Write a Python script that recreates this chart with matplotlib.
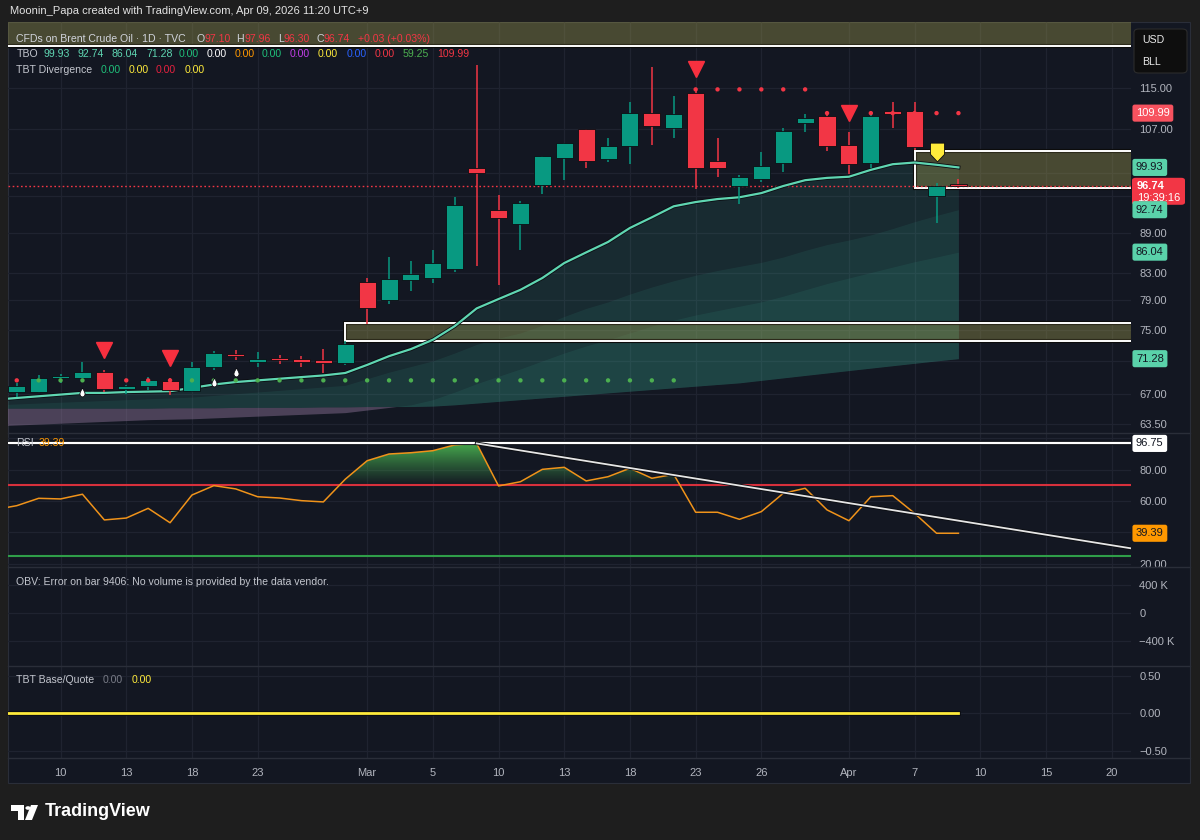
import numpy as np
import matplotlib
matplotlib.use("Agg")
import matplotlib.pyplot as plt
from matplotlib import transforms
from matplotlib.patches import Rectangle, FancyBboxPatch, Polygon, Circle
from matplotlib.path import Path
from matplotlib.colors import LinearSegmentedColormap
from matplotlib.ticker import NullLocator
import matplotlib.patheffects as pe

plt.rcParams['font.family'] = ['Liberation Sans', 'DejaVu Sans']

# ---------------- data ----------------
dates = ['02-05', '02-06', '02-09', '02-10', '02-11', '02-12', '02-13', '02-16', '02-17',
         '02-18', '02-19', '02-20', '02-23', '02-24', '02-25', '02-26', '02-27',
         '03-02', '03-03', '03-04', '03-05', '03-06', '03-09', '03-10', '03-11', '03-12',
         '03-13', '03-16', '03-17', '03-18', '03-19', '03-20', '03-23', '03-24', '03-25',
         '03-26', '03-27', '03-30', '03-31', '04-01', '04-02', '04-06', '04-07', '04-08',
         '04-09']
future_dates = ['04-10', '04-13', '04-14', '04-15', '04-16', '04-17', '04-20', '04-21']

opens = [66.8, 67.2, 67.2, 68.9, 68.9, 69.6, 67.6, 67.9, 68.5, 67.3, 70.2, 71.8, 70.9, 71.3,
         71.0, 71.1, 70.8, 81.6, 79.1, 81.9, 82.2, 83.5, 99.9, 92.7, 90.4, 96.9, 101.6, 106.9,
         101.5, 103.7, 110.1, 107.1, 114.0, 101.0, 96.7, 97.9, 100.8, 108.0, 109.4, 103.9,
         100.8, 110.3, 110.5, 95.0, 97.10]
highs = [67.4, 68.3, 69.3, 69.4, 70.9, 69.9, 68.0, 69.0, 68.9, 70.9, 72.2, 72.4, 72.1, 71.8,
         71.6, 72.5, 73.5, 82.2, 85.3, 84.7, 86.4, 94.9, 119.7, 95.2, 94.1, 101.9, 104.4, 106.9,
         105.3, 112.2, 119.4, 113.4, 114.8, 105.3, 98.6, 102.7, 107.2, 109.9, 110.3, 106.3,
         110.3, 112.2, 112.1, 97.2, 97.96]
lows = [66.3, 66.6, 67.1, 68.3, 68.6, 67.2, 67.0, 67.4, 66.8, 67.2, 69.9, 71.1, 70.2, 70.6,
        70.2, 69.5, 70.5, 75.8, 78.5, 80.3, 81.5, 83.1, 83.9, 81.2, 86.4, 95.4, 97.7, 99.8,
        100.9, 100.5, 103.9, 105.3, 96.2, 98.3, 93.7, 97.4, 99.1, 106.4, 102.8, 98.8, 99.8,
        107.2, 103.0, 90.6, 96.30]
closes = [67.1, 67.9, 68.9, 69.1, 69.6, 67.6, 67.8, 68.6, 67.4, 70.3, 72.0, 71.6, 71.2, 71.1,
          70.9, 70.8, 73.2, 78.0, 82.0, 82.8, 84.4, 93.5, 98.9, 91.4, 93.9, 101.9, 104.3, 101.0,
          103.7, 110.1, 107.5, 109.9, 99.9, 99.9, 98.3, 100.2, 106.6, 109.1, 103.7, 100.5, 109.4,
          109.9, 103.6, 96.71, 96.74]

# TBO lines: fast, medium, medium-slow, slow
tbo_fast = [66.3, 66.5, 66.7, 66.9, 67.1, 67.1, 67.2, 67.25, 67.3, 67.7, 68.1, 68.4, 68.6, 68.8,
            69.0, 69.2, 69.5, 70.5, 71.6, 72.5, 73.7, 75.5, 77.9, 79.2, 80.5, 82.2, 84.4, 86.0,
            87.6, 89.8, 91.5, 93.3, 94.0, 94.5, 94.8, 95.5, 96.7, 97.7, 98.1, 98.3, 99.5, 100.5,
            100.8, 100.4, 99.93]
tbo_mid = [65.7, 65.8, 65.9, 66.0, 66.1, 66.2, 66.3, 66.4, 66.5, 66.6, 66.8, 67.0, 67.2, 67.4,
           67.6, 67.8, 68.0, 68.8, 69.6, 70.3, 71.0, 72.0, 73.1, 73.9, 74.6, 75.6, 76.8, 77.9,
           78.8, 79.9, 80.9, 81.8, 82.6, 83.3, 83.9, 84.5, 85.3, 86.3, 87.2, 87.9, 88.7, 89.7,
           90.8, 91.8, 92.74]
tbo_midslow = [63.3, 63.4, 63.5, 63.6, 63.7, 63.8, 63.9, 64.0, 64.05, 64.1, 64.2, 64.3, 64.4,
               64.5, 64.6, 64.7, 64.8, 65.1, 65.4, 65.7, 66.3, 67.2, 68.2, 69.1, 70.0, 71.0, 72.0,
               72.9, 73.7, 74.6, 75.5, 76.3, 77.0, 77.6, 78.2, 78.8, 79.6, 80.5, 81.4, 82.2, 83.0,
               83.8, 84.6, 85.3, 86.04]
tbo_slow = [65.3, 65.3, 65.3, 65.3, 65.3, 65.3, 65.3, 65.3, 65.35, 65.35, 65.35, 65.4, 65.4,
            65.4, 65.4, 65.45, 65.45, 65.5, 65.5, 65.5, 65.55, 65.7, 65.9, 66.1, 66.3, 66.5,
            66.7, 66.9, 67.1, 67.3, 67.5, 67.7, 67.9, 68.1, 68.3, 68.6, 68.9, 69.2, 69.5, 69.8,
            70.1, 70.4, 70.7, 71.0, 71.28]

# stop dots (level + side)
stop_level = [68.6, 68.6, 68.6, 68.6, 68.6, 68.6, 68.6, 68.6, 68.6, 68.6, 68.6, 68.6, 68.6,
              68.6, 68.6, 68.6, 68.6, 68.6, 68.6, 68.6, 68.6, 68.6, 68.6, 68.6, 68.6, 68.6,
              68.6, 68.6, 68.6, 68.6, 68.6, 68.6, 114.7, 114.7, 114.7, 114.7, 114.7, 114.7,
              109.99, 109.99, 109.99, 109.99, 109.99, 109.99, 109.99]
stop_side = list("rrgggrrrr" "ggggggggggggggggggggggg" "rrrrrrrrrrrrr")

tri_idx = [5, 8, 32, 39]        # red sell triangles
drop_idx = [4, 10, 11]          # white drops under bars
flag_idx = [43]                 # yellow label

# zones: start bar, low, high
zone_start = [-2, 16, 42]
zone_low = [123.9, 73.6, 96.3]
zone_high = [150.0, 75.9, 102.9]

rsi = [54.5, 57.0, 61.7, 61.3, 64.3, 47.9, 49.1, 55.3, 46.1, 63.8, 69.8, 67.7, 62.7, 61.9, 60.2,
       59.4, 73.9, 85.7, 90.0, 90.8, 92.1, 95.8, 96.75, 69.6, 72.3, 80.2, 81.5, 72.8, 75.5, 80.9,
       74.5, 77.0, 52.8, 52.8, 48.3, 53.2, 64.9, 68.1, 54.3, 47.4, 62.7, 63.4, 52.1, 39.4, 39.39]
rsi_hline = 96.75
rsi_trend_x = [22, 52]
rsi_trend_y = [96.75, 29.5]

tbt_base = [0.0, 0.0, 0.0, 0.0, 0.0, 0.0, 0.0, 0.0, 0.0, 0.0, 0.0, 0.0, 0.0, 0.0, 0.0, 0.0,
            0.0, 0.0, 0.0, 0.0, 0.0, 0.0, 0.0, 0.0, 0.0, 0.0, 0.0, 0.0, 0.0, 0.0, 0.0, 0.0,
            0.0, 0.0, 0.0, 0.0, 0.0, 0.0, 0.0, 0.0, 0.0, 0.0, 0.0, 0.0, 0.0]

tick_dates = ['02-10', '02-13', '02-18', '02-23', '03-02', '03-05', '03-10', '03-13', '03-18',
              '03-23', '03-26', '04-01', '04-07', '04-10', '04-15', '04-20']
tick_labels = ['10', '13', '18', '23', 'Mar', '5', '10', '13', '18', '23', '26', 'Apr', '7',
               '10', '15', '20']
# price scale ticks; the ones hidden under value tags get no label
price_ticks = [63.5, 67, 71, 75, 79, 83, 89, 95, 99, 107, 115]
price_tick_labels = ['63.50', '67.00', '', '75.00', '79.00', '83.00', '89.00', '', '', '107.00',
                     '115.00']
rsi_ticks = [20, 40, 60, 80, 100]
rsi_tick_labels = ['20.00', '', '60.00', '80.00', '']

tbo_legend_vals = ['99.93', '92.74', '86.04', '71.28', '0.00', '0.00', '0.00', '0.00', '0.00',
                   '0.00', '0.00', '0.00', '59.25', '109.99']
tbo_legend_cols = ['#5fd6b2', '#5fd6b2', '#5fd6b2', '#5fd6b2', '#1fbf7a', '#ffffff', '#ff9800',
                   '#1fbf7a', '#c23ee8', '#ffeb3b', '#2962ff', '#f23645', '#4caf50', '#f23645']
tbo_legend_x = [43, 78, 112, 146, 179, 207, 235, 262, 290, 318, 347, 375, 403, 437]

# ---------------- styling ----------------
W, H = 1200, 840
BG = '#131722'
OUTER = '#1e1e1e'
GRID = '#1f2330'
AXTXT = '#b2b5be'
UP = '#089981'
DOWN = '#f23645'
TEAL = '#5fd6b2'
EDGE = '#0b0d12'


def box(x0, y0, x1, y1):
    return [x0 / W, 1 - y1 / H, (x1 - x0) / W, (y1 - y0) / H]


def ftext(px, py, s, color, size=7.6, **kw):
    return fig.text(px / W, 1 - py / H, s, color=color, fontsize=size, va='center', ha='left', **kw)


fig = plt.figure(figsize=(12, 8.4), dpi=100, facecolor=OUTER)
fig.patches.append(Rectangle((8 / W, 1 - 783 / H), 1182 / W, 761 / H, transform=fig.transFigure,
                             fc=BG, ec='#2a2e39', lw=0.8, zorder=-10))

ax_p = fig.add_axes(box(8, 22, 1131, 433))
ax_r = fig.add_axes(box(8, 433, 1131, 567), sharex=ax_p)
ax_o = fig.add_axes(box(8, 567, 1131, 666), sharex=ax_p)
ax_t = fig.add_axes(box(8, 666, 1131, 758), sharex=ax_p)

x = np.arange(len(dates))
all_dates = dates + future_dates
tick_pos = [all_dates.index(d) for d in tick_dates]

for ax in (ax_p, ax_r, ax_o, ax_t):
    ax.set_facecolor('none')
    for s in ax.spines.values():
        s.set_visible(False)
    ax.yaxis.tick_right()
    ax.tick_params(axis='y', length=0, colors=AXTXT, labelsize=8, pad=6)
    ax.tick_params(axis='x', length=0, colors=AXTXT, labelsize=8, labelbottom=False)
    ax.grid(True, color=GRID, lw=0.9)
    ax.set_axisbelow(True)

ax_t.set_xticks(tick_pos, labels=tick_labels)
ax_t.tick_params(axis='x', labelbottom=True, pad=7)

# separators between panes
for yy in (433, 567, 666, 758):
    fig.add_artist(plt.Line2D([8 / W, 1190 / W], [1 - yy / H, 1 - yy / H], color='#2a2e39',
                              lw=1.0, transform=fig.transFigure))

# ---------------- price pane ----------------
ax_p.set_yscale('log')
ax_p.set_yticks(price_ticks, labels=price_tick_labels)
ax_p.yaxis.set_minor_locator(NullLocator())
ax_p.set_xlim(0.6, 51.88)
ax_p.set_ylim(62.51, 129.2)

f1 = np.array(tbo_fast)
f2 = np.array(tbo_mid)
f3 = np.array(tbo_midslow)
f4 = np.array(tbo_slow)
FILL = '#3fb39c'
ax_p.fill_between(x, f1, f4, color=FILL, alpha=0.13, lw=0, zorder=1)
ax_p.fill_between(x, f2, f4, color=FILL, alpha=0.10, lw=0, zorder=1)
ax_p.fill_between(x, f3, f4, where=f3 >= f4, interpolate=True, color=FILL, alpha=0.10, lw=0, zorder=1)
ax_p.fill_between(x, f3, f4, where=f3 < f4, interpolate=True, color='#a082aa', alpha=0.40, lw=0, zorder=1)

# zones
for xs, lo, hi in zip(zone_start, zone_low, zone_high):
    ax_p.add_patch(Rectangle((xs, lo), 80, hi - lo, fc=(0.62, 0.60, 0.30, 0.22), ec='white', lw=1.4,
                             zorder=2, path_effects=[pe.Stroke(linewidth=3.0, foreground='#0c0c0c'),
                                                     pe.Normal()]))

ax_p.axhline(closes[-1], color=DOWN, lw=1.0, ls=(0, (1.2, 1.8)), zorder=2)

ax_p.plot(x, f1, color=TEAL, lw=1.6, zorder=3,
          path_effects=[pe.Stroke(linewidth=2.8, foreground=EDGE), pe.Normal()])

# candles
o = np.array(opens)
c = np.array(closes)
cols = [UP if cc >= oo else DOWN for oo, cc in zip(o, c)]
ax_p.vlines(x, lows, highs, colors=cols, lw=1.1, zorder=4)
bottoms = np.minimum(o, c)
heights = np.maximum(np.abs(c - o), bottoms * 0.004)
ax_p.bar(x, heights, bottom=bottoms, width=0.78, color=cols, edgecolor=EDGE, linewidth=0.6, zorder=5)

# stop dots
dot_cols = ['#4caf50' if s == 'g' else '#f23645' for s in stop_side]
ax_p.scatter(x, stop_level, c=dot_cols, s=10, lw=0, zorder=6)

# markers
up_tri = ax_p.transData + transforms.ScaledTranslation(0, 0.195, fig.dpi_scale_trans)
ax_p.plot(tri_idx, [highs[i] for i in tri_idx], 'v', color='#f7303f', ms=11, ls='none',
          transform=up_tri, zorder=7)

drop = Path([(0.0, 1.0), (0.45, 0.15), (0.6, -0.35), (0.4, -0.85), (0.0, -1.0), (-0.4, -0.85),
             (-0.6, -0.35), (-0.45, 0.15), (0.0, 1.0)])
down_drop = ax_p.transData + transforms.ScaledTranslation(0, -0.12, fig.dpi_scale_trans)
ax_p.plot(drop_idx, [lows[i] for i in drop_idx], marker=drop, ms=6.5, color='white', mec=EDGE,
          mew=0.6, ls='none', transform=down_drop, zorder=7)

flag = Path([(-0.75, 1.0), (0.75, 1.0), (0.75, -0.2), (0.0, -1.0), (-0.75, -0.2), (-0.75, 1.0)])
up_flag = ax_p.transData + transforms.ScaledTranslation(0, 0.315, fig.dpi_scale_trans)
ax_p.plot(flag_idx, [highs[i] for i in flag_idx], marker=flag, ms=13.5, color='#ffeb3b', mec=EDGE,
          mew=0.6, ls='none', transform=up_flag, zorder=7)

ax_p.set_xlim(0.6, 51.88)
ax_p.set_ylim(62.51, 129.2)

# ---------------- RSI pane ----------------
ax_r.set_ylim(17.85, 103.4)
ax_r.set_yticks(rsi_ticks, labels=rsi_tick_labels)
r = np.array(rsi)
poly = ax_r.fill_between(x, r, 70, where=r > 70, interpolate=True, facecolor='none', edgecolor='none')
clip = Path.make_compound_path(*poly.get_paths())
cmap = LinearSegmentedColormap.from_list('g', [(0.25, 0.62, 0.30, 0.02), (0.30, 0.72, 0.32, 0.95)])
grad = np.linspace(0, 1, 256).reshape(-1, 1)
im = ax_r.imshow(grad, extent=(x[0], x[-1], 70, 97), origin='lower', aspect='auto', cmap=cmap, zorder=1)
im.set_clip_path(clip, ax_r.transData)

ax_r.axhline(70, color='#d7303c', lw=1.5, zorder=2)
ax_r.axhline(25, color='#2f9e49', lw=1.5, zorder=2)
ax_r.plot(x, r, color='#f0931a', lw=1.1, zorder=3)
ax_r.axhline(rsi_hline, color='white', lw=1.6, zorder=4,
             path_effects=[pe.Stroke(linewidth=3.0, foreground=EDGE), pe.Normal()])
ax_r.plot(rsi_trend_x, rsi_trend_y, color='#e6e6e6', lw=1.3, zorder=4,
          path_effects=[pe.Stroke(linewidth=2.6, foreground=EDGE), pe.Normal()])
ax_r.set_ylim(17.85, 103.4)

# ---------------- OBV pane ----------------
ax_o.set_ylim(-757e3, 657e3)
ax_o.set_yticks([-400e3, 0, 400e3], labels=['\u2212400 K', '0', '400 K'])

# ---------------- TBT pane ----------------
ax_t.set_ylim(-0.6, 0.627)
ax_t.set_yticks([-0.5, 0, 0.5], labels=['\u22120.50', '0.00', '0.50'])
ax_t.plot(x, tbt_base, color='#ffeb3b', lw=2.0, zorder=3,
          path_effects=[pe.Stroke(linewidth=3.4, foreground=EDGE), pe.Normal()])

ax_p.set_xlim(0.6, 51.88)


# ---------------- right-axis value tags ----------------
def tag(ax, val, txt, fc, tc, weight='normal'):
    yd = ax.transData.transform((1, val))[1]
    fig.text(1136 / W, yd / H, txt, color=tc, fontsize=8, fontweight=weight, va='center', ha='left',
             zorder=10, bbox=dict(boxstyle='round,pad=0.32,rounding_size=0.2', fc=fc, ec='none'))


tag(ax_p, stop_level[-1], f'{stop_level[-1]:.2f}', '#f7525f', 'white')
tag(ax_p, tbo_fast[-1], f'{tbo_fast[-1]:.2f}', '#5ad2aa', BG)
tag(ax_p, tbo_mid[-1], f'{tbo_mid[-1]:.2f}', '#5ad2aa', BG)
tag(ax_p, tbo_midslow[-1], f'{tbo_midslow[-1]:.2f}', '#5ad2aa', BG)
tag(ax_p, tbo_slow[-1], f'{tbo_slow[-1]:.2f}', '#5ad2aa', BG)

yd = ax_p.transData.transform((1, closes[-1]))[1]
fig.add_artist(FancyBboxPatch((1132 / W, (yd - 19) / H), 53 / W, 27 / H,
                              boxstyle='round,pad=0,rounding_size=0.003', transform=fig.transFigure,
                              fc=DOWN, ec='none', zorder=9))
fig.text(1137 / W, yd / H, f'{closes[-1]:.2f}', color='white', fontsize=8, fontweight='bold',
         va='center', ha='left', zorder=10)
fig.text(1137 / W, (yd - 12) / H, '19:39:16', color='white', fontsize=8, va='center', ha='left',
         zorder=10)

tag(ax_r, rsi_hline, f'{rsi_hline:.2f}', 'white', BG)
tag(ax_r, rsi[-1], f'{rsi[-1]:.2f}', '#ff9800', BG)

# ---------------- legends / header ----------------
ftext(10, 11, 'Moonin_Papa created with TradingView.com, Apr 09, 2026 11:20 UTC+9', '#e3e3e3', 8)

GREY = '#c3c6ce'
ftext(16.5, 39.5, 'CFDs on Brent Crude Oil \u00b7 1D \u00b7 TVC', '#d1d4dc')
for lab, px, val, pv in [('O', 196.5, opens[-1], 204), ('H', 236.5, highs[-1], 244.3),
                         ('L', 278.3, lows[-1], 283.5), ('C', 316.5, closes[-1], 323.5)]:
    ftext(px, 39.5, lab, '#d1d4dc')
    ftext(pv, 39.5, f'{val:.2f}', DOWN)
ftext(358.5, 39.5, '+0.03 (+0.03%)', DOWN)

ftext(16.5, 54, 'TBO', GREY)
for s, col, px in zip(tbo_legend_vals, tbo_legend_cols, tbo_legend_x):
    ftext(px, 54, s, col)

ftext(16.5, 70, 'TBT Divergence', GREY)
for s, col, px in zip(['0.00', '0.00', '0.00', '0.00'], ['#1fbf7a', '#ffeb3b', '#e5213f', '#ffeb3b'],
                      [100.5, 128.5, 156, 184.5]):
    ftext(px, 70, s, col)

ftext(16.5, 443, 'RSI', GREY)
ftext(39, 443, f'{rsi[-1]:.2f}', '#ff9800')
ftext(16.5, 582, 'OBV: Error on bar 9406: No volume is provided by the data vendor.', GREY)
ftext(16.5, 680, 'TBT Base/Quote', GREY)
ftext(103, 680, '0.00', '#787b86')
ftext(131.5, 680, '0.00', '#ffeb3b')

# currency box
fig.add_artist(FancyBboxPatch((1134 / W, 1 - 73 / H), 53 / W, 44 / H,
                              boxstyle='round,pad=0,rounding_size=0.004', transform=fig.transFigure,
                              fc='#0e0e0e', ec='#2c2c2c', lw=0.8, zorder=9))
ftext(1142, 40, 'USD', '#eaeaea', 7.6, zorder=10)
ftext(1142, 62, 'BLL', '#eaeaea', 7.6, zorder=10)

# TradingView logo
fig.add_artist(Polygon([(11 / W, 1 - 805 / H), (24 / W, 1 - 805 / H), (24 / W, 1 - 820 / H),
                        (18 / W, 1 - 820 / H), (18 / W, 1 - 811 / H), (11 / W, 1 - 811 / H)],
                       closed=True, transform=fig.transFigure, fc='white', ec='none'))
fig.add_artist(Circle((28 / W, 1 - 808 / H), 2.6 / W, transform=fig.transFigure, fc='white', ec='none'))
fig.add_artist(Polygon([(31 / W, 1 - 805 / H), (38 / W, 1 - 805 / H), (32 / W, 1 - 820 / H),
                        (25 / W, 1 - 820 / H)], closed=True, transform=fig.transFigure,
                       fc='white', ec='none'))
ftext(45, 812, 'TradingView', 'white', 13, fontweight='bold')

fig.savefig('out.png', dpi=100, facecolor=OUTER)
